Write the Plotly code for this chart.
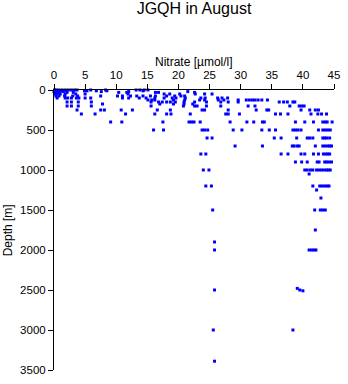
import plotly.graph_objects as go

# Nitrate [µmol/l] observed at each standard depth [m]
rows = {
    0: [0.1, 0.4, 0.8, 1.3, 1.8, 2.3, 2.8, 3.3, 3.7, 5.9, 8.3, 13.2, 13.8, 14.5, 15.1],
    10: [0.2, 0.6, 1.1, 2.0, 4.9, 5.3, 6.8, 8.5, 14.3],
    20: [0.0, 0.4, 0.9, 1.5, 7.6, 12.0, 21.5],
    30: [0.2, 0.6, 2.1, 3.1, 10.4, 11.7, 16.3, 16.8, 22.6],
    50: [0.1, 0.5, 1.0, 1.8, 3.5, 5.0, 11.9, 17.7, 18.6, 20.2, 22.7, 24.2, 25.4],
    75: [0.3, 0.8, 1.7, 3.0, 3.8, 7.5, 10.2, 11.0, 12.3, 13.3, 14.3, 15.5, 16.3,
         18.1, 19.4, 20.4, 21.0],
    100: [0.5, 1.8, 2.2, 2.8, 3.6, 4.0, 5.0, 5.9, 11.0, 12.0, 13.7, 14.8, 16.2, 17.7,
          19.0, 19.6, 21.1, 23.6, 24.3, 26.3, 27.0, 27.9],
    125: [15.1, 15.7, 16.2, 19.2, 21.0, 23.4, 24.2, 26.4, 27.3, 29.6, 30.9, 31.4,
          31.9, 32.3, 32.8, 33.4, 34.3],
    150: [2.1, 2.8, 3.9, 6.0, 15.6, 16.8, 17.4, 18.1, 18.7, 19.5, 20.9, 22.6, 24.5,
          26.8, 28.0, 29.6, 36.2, 36.9, 37.5, 38.4, 38.7],
    175: [7.8, 17.0, 19.2, 20.9, 22.3],
    200: [2.1, 2.8, 3.9, 6.0, 15.6, 20.8, 22.6, 23.0, 24.5, 26.8, 31.2, 32.3, 37.9,
          39.4, 39.8, 40.2],
    250: [3.7, 7.5, 8.1, 10.8, 12.6, 16.6, 18.7, 23.8, 24.2, 28.0, 32.5, 34.2, 34.5,
          39.7, 41.1, 42.0, 42.5],
    300: [4.4, 6.6, 11.5, 16.2, 18.1, 18.8, 21.9, 27.6, 28.0, 29.8, 35.6, 36.4, 37.6,
          41.3, 42.4, 43.0, 43.8],
    400: [9.1, 10.9, 17.5, 21.7, 22.1, 22.5, 23.5, 28.3, 31.0, 32.1, 33.5, 33.8, 38.8,
          40.3, 41.7, 43.2, 43.6, 43.9, 44.7],
    500: [16.0, 17.6, 23.8, 24.2, 24.7, 28.8, 30.2, 33.4, 34.6, 35.6, 38.4, 38.8,
          39.2, 39.7, 42.5, 43.2, 43.6, 44.0, 44.4],
    600: [24.6, 25.4, 35.4, 36.5, 39.0, 40.7, 41.1, 41.6, 43.2, 43.5, 43.8, 44.3],
    700: [29.1, 33.5, 38.3, 38.6, 39.1, 39.4, 42.0, 43.2, 43.6, 44.0, 44.3, 44.6],
    800: [23.6, 24.4, 36.5, 37.6, 39.7, 40.3, 41.7, 42.5, 43.3, 43.7, 44.0, 44.3],
    900: [38.8, 39.8, 40.7, 42.3, 42.6, 43.5, 43.8, 44.2, 44.6],
    1000: [24.0, 24.9, 40.3, 40.7, 41.2, 41.6, 42.2, 42.6, 43.0, 43.4, 43.8, 44.1, 44.4],
    1050: [41.0],
    1200: [24.4, 25.3, 41.6, 42.7, 43.1, 43.5, 43.9, 44.2],
    1250: [42.2],
    1350: [42.9],
    1500: [25.5, 41.9, 42.8, 43.2, 43.6],
    1750: [42.0],
    1900: [25.8],
    2000: [25.8, 41.0, 41.4, 41.8, 42.1],
    2480: [39.1],
    2500: [25.8, 39.5],
    2510: [40.0],
    3000: [25.6, 38.4],
    3390: [25.8],
}

nitrate = [n for d, vals in rows.items() for n in vals]
depth = [d for d, vals in rows.items() for _ in vals]

x_ticks = [0, 5, 10, 15, 20, 25, 30, 35, 40, 45]
y_ticks = [0, 500, 1000, 1500, 2000, 2500, 3000, 3500]

FONT = "Liberation Sans, Arial, sans-serif"

fig = go.Figure(
    go.Scatter(
        x=nitrate, y=depth, mode="markers",
        marker=dict(symbol="square", size=3, color="#0000ff", line=dict(width=0)),
        cliponaxis=False, showlegend=False,
    )
)

fig.update_layout(
    width=348, height=384,
    margin=dict(l=54, r=9, t=90, b=8, pad=0),
    paper_bgcolor="white", plot_bgcolor="white",
    font=dict(family=FONT, size=11, color="black"),
    title=dict(text="JGQH in August", x=0.5, xref="paper", xanchor="center",
               y=1 - 8.5 / 384, yref="container", yanchor="middle",
               font=dict(family=FONT, size=16, color="black")),
    xaxis=dict(range=[0, 45], side="top", tickvals=x_ticks, ticks="outside",
               ticklen=5, tickcolor="black", showline=True, linecolor="black",
               linewidth=1, showgrid=False, zeroline=False,
               tickfont=dict(family=FONT, size=11.5)),
    yaxis=dict(range=[3500, 0], tickvals=y_ticks, ticks="outside", ticklen=5,
               tickcolor="black", showline=True, linecolor="black", linewidth=1,
               showgrid=False, zeroline=False, tickfont=dict(family=FONT, size=11.5)),
    annotations=[
        dict(text="Nitrate [µmol/l]", xref="paper", yref="paper", x=0.5,
             y=1 + (90 - 61) / 286, xanchor="center", yanchor="middle",
             showarrow=False, font=dict(family=FONT, size=12)),
        dict(text="Depth [m]", xref="paper", yref="paper", x=(7.5 - 54) / 285,
             y=0.5, xanchor="center", yanchor="middle", textangle=-90,
             showarrow=False, font=dict(family=FONT, size=12)),
    ],
)

fig.write_html("out.html")
